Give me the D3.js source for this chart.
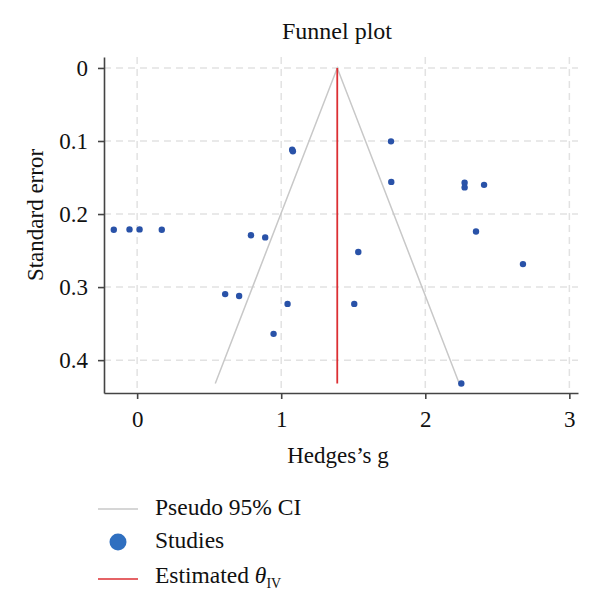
<!DOCTYPE html>
<html>
<head>
<meta charset="utf-8">
<script src="https://cdn.jsdelivr.net/npm/d3@7"></script>
<style>
  body { margin: 0; background: #fff; }
  svg text { font-family: "Liberation Serif", "DejaVu Serif", serif; fill: #111; }
</style>
</head>
<body>
<div id="chart"></div>
<script>
// study effects (Hedges's g) and their standard errors
var hedgesG = [-0.162, -0.053, 0.017, 0.171, 0.79, 0.889, 1.076, 1.081, 1.762, 1.764,
  2.273, 2.273, 2.408, 2.352, 0.611, 0.708, 1.044, 0.947, 1.535, 1.507, 2.678, 2.25]
var stdErr = [0.2215, 0.221, 0.221, 0.2215, 0.229, 0.232, 0.112, 0.114, 0.1005, 0.156,
  0.157, 0.1635, 0.160, 0.224, 0.3096, 0.3123, 0.323, 0.364, 0.252, 0.323, 0.2685, 0.432]

// pooled estimate and the largest SE (funnel bottom)
var thetaIV = 1.389
var maxSE = 0.432

var xTicks = [0, 1, 2, 3]
var yTicks = [0, 0.1, 0.2, 0.3, 0.4]
var legendLabels = ["Pseudo 95% CI", "Studies", "Estimated "]

var width = 600, height = 611

var svg = d3.select("#chart").append("svg")
    .attr("width", width)
    .attr("height", height)

var x = d3.scaleLinear().domain([-0.23, 3.06]).range([104, 578])
var y = d3.scaleLinear().domain([-0.015, 0.445]).range([57, 393])

// grid
svg.append("g").selectAll("line.vgrid")
    .data(xTicks)
  .enter().append("line")
    .attr("x1", function(d){ return x(d) })
    .attr("x2", function(d){ return x(d) })
    .attr("y1", y.range()[0])
    .attr("y2", y.range()[1])
    .attr("stroke", "#e2e2e2")
    .attr("stroke-width", 1.5)
    .attr("stroke-dasharray", "7,5")

svg.append("g").selectAll("line.hgrid")
    .data(yTicks)
  .enter().append("line")
    .attr("x1", x.range()[0])
    .attr("x2", x.range()[1])
    .attr("y1", function(d){ return y(d) })
    .attr("y2", function(d){ return y(d) })
    .attr("stroke", "#e2e2e2")
    .attr("stroke-width", 1.5)
    .attr("stroke-dasharray", "7,5")

// pseudo 95% CI funnel
var funnel = [[thetaIV - 1.96 * maxSE, maxSE], [thetaIV, 0], [thetaIV + 1.96 * maxSE, maxSE]]
svg.append("path")
    .datum(funnel)
    .attr("d", d3.line().x(function(d){ return x(d[0]) }).y(function(d){ return y(d[1]) }))
    .attr("fill", "none")
    .attr("stroke", "#c8c8c8")
    .attr("stroke-width", 1.5)

// estimated theta line
svg.append("line")
    .attr("x1", x(thetaIV)).attr("x2", x(thetaIV))
    .attr("y1", y(0)).attr("y2", y(maxSE))
    .attr("stroke", "#dc2f33")
    .attr("stroke-width", 1.8)

// studies
svg.append("g").selectAll("circle")
    .data(hedgesG)
  .enter().append("circle")
    .attr("cx", function(d){ return x(d) })
    .attr("cy", function(d, i){ return y(stdErr[i]) })
    .attr("r", 3.2)
    .attr("fill", "#2952a8")

// axes
var xAxis = svg.append("g")
    .attr("transform", "translate(0," + y.range()[1] + ")")
    .call(d3.axisBottom(x).tickValues(xTicks).tickSize(6).tickPadding(12).tickSizeOuter(0)
      .tickFormat(d3.format("d")))
var yAxis = svg.append("g")
    .attr("transform", "translate(" + x.range()[0] + ",0)")
    .call(d3.axisLeft(y).tickValues(yTicks).tickSize(6).tickPadding(10).tickSizeOuter(0)
      .tickFormat(function(d){ return d === 0 ? "0" : d3.format(".1f")(d) }))

;[xAxis, yAxis].forEach(function(a){
  a.select(".domain").attr("stroke", "#444").attr("stroke-width", 1.6)
  a.selectAll(".tick line").attr("stroke", "#444").attr("stroke-width", 1.6)
  a.selectAll(".tick text").attr("font-size", 23).attr("fill", "#111")
    .attr("font-family", "Liberation Serif, DejaVu Serif, serif")
})

// titles
svg.append("text")
    .attr("x", 337).attr("y", 39)
    .attr("text-anchor", "middle")
    .attr("font-size", 24)
    .text("Funnel plot")

svg.append("text")
    .attr("x", 338).attr("y", 463)
    .attr("text-anchor", "middle")
    .attr("font-size", 23)
    .text("Hedges\u2019s g")

svg.append("text")
    .attr("transform", "translate(43,215) rotate(-90)")
    .attr("text-anchor", "middle")
    .attr("font-size", 23)
    .text("Standard error")

// legend
var legend = svg.append("g")
legend.append("line")
    .attr("x1", 98).attr("x2", 138).attr("y1", 509).attr("y2", 509)
    .attr("stroke", "#c8c8c8").attr("stroke-width", 1.5)
legend.append("circle")
    .attr("cx", 118).attr("cy", 542).attr("r", 8.5)
    .attr("fill", "#2f6fc0")
legend.append("line")
    .attr("x1", 98).attr("x2", 138).attr("y1", 579).attr("y2", 579)
    .attr("stroke", "#dc2f33").attr("stroke-width", 1.5)

legend.selectAll("text.lbl")
    .data(legendLabels)
  .enter().append("text")
    .attr("class", "lbl")
    .attr("x", 155)
    .attr("y", function(d, i){ return [515, 548, 583][i] })
    .attr("font-size", 23.5)
    .text(function(d){ return d })

var est = legend.select("text.lbl:last-child")
est.append("tspan").attr("font-style", "italic").text("\u03b8")
est.append("tspan").attr("font-size", 14).attr("dy", 5).text("IV")
</script>
</body>
</html>
